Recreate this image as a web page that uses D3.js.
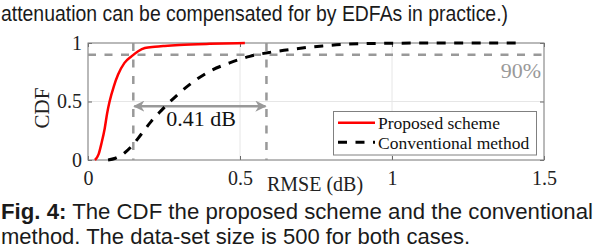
<!DOCTYPE html>
<html>
<head>
<meta charset="utf-8">
<script src="https://cdn.jsdelivr.net/npm/d3@7"></script>
<style>
  body { margin: 0; background: #fff; }
  svg { display: block; }
</style>
</head>
<body>
<script>
// data
var proposedX = [0.023, 0.035, 0.045, 0.055, 0.063, 0.071, 0.085, 0.099, 0.12, 0.143, 0.165, 0.187, 0.22, 0.252, 0.3, 0.4, 0.516];
var proposedY = [0, 0.05, 0.15, 0.27, 0.4, 0.5, 0.63, 0.73, 0.83, 0.886, 0.93, 0.957, 0.968, 0.975, 0.983, 0.993, 1.0];
var convX = [0.066, 0.09, 0.12, 0.148, 0.175, 0.208, 0.24, 0.269, 0.334, 0.4, 0.466, 0.532, 0.598, 0.652, 0.772, 0.838, 0.9, 1.0, 1.2, 1.43];
var convY = [0, 0.015, 0.06, 0.13, 0.22, 0.33, 0.42, 0.496, 0.644, 0.758, 0.83, 0.886, 0.92, 0.94, 0.975, 0.988, 0.994, 0.998, 1.0, 1.0];
var xTicks = [0, 0.5, 1, 1.5];
var yTicks = [0, 0.5, 1];
var level = 0.9;             // 90% line
var markX = [0.149, 0.587];  // where each curve hits 90%
var seriesNames = ["Proposed scheme", "Conventional method"];

var W = 596, H = 248;
var svg = d3.select("body").append("svg").attr("width", W).attr("height", H);

var x = d3.scaleLinear().domain([0, 1.5]).range([88, 544]);
var y = d3.scaleLinear().domain([0, 1]).range([160, 43]);
var serif = "'Liberation Serif', 'Times New Roman', serif";
var sans = "'Liberation Sans', Arial, sans-serif";

// text above
svg.append("text").attr("x", 1).attr("y", 21)
   .attr("font-family", sans).attr("font-size", 22).attr("fill", "#1a1a1a")
   .attr("textLength", 507).attr("lengthAdjust", "spacingAndGlyphs")
   .text("attenuation can be compensated for by EDFAs in practice.)");

// grid
var grid = svg.append("g").attr("stroke", "#e6e6e6").attr("stroke-width", 1);
grid.selectAll("line.gx").data(xTicks).enter().append("line")
    .attr("x1", d => x(d)).attr("x2", d => x(d)).attr("y1", y(0)).attr("y2", y(1));
grid.selectAll("line.gy").data(yTicks).enter().append("line")
    .attr("y1", d => y(d)).attr("y2", d => y(d)).attr("x1", x(0)).attr("x2", x(1.5));

var fmt = d3.format("~g");
var gx = svg.append("g").attr("transform", "translate(0," + y(0) + ")")
    .call(d3.axisBottom(x).tickValues(xTicks).tickFormat(fmt).tickSizeInner(-4).tickSizeOuter(0).tickPadding(11));
var gy = svg.append("g").attr("transform", "translate(" + x(0) + ",0)")
    .call(d3.axisLeft(y).tickValues(yTicks).tickFormat(fmt).tickSizeInner(-4).tickSizeOuter(0).tickPadding(6));
var gx2 = svg.append("g").attr("transform", "translate(0," + y(1) + ")")
    .call(d3.axisTop(x).tickValues(xTicks).tickFormat("").tickSizeInner(-4).tickSizeOuter(0));
var gy2 = svg.append("g").attr("transform", "translate(" + x(1.5) + ",0)")
    .call(d3.axisRight(y).tickValues(yTicks).tickFormat("").tickSizeInner(-4).tickSizeOuter(0));
[gx, gy, gx2, gy2].forEach(function(g) {
    g.select(".domain").remove();
    g.selectAll("line").attr("stroke", "#666");
    g.selectAll("text").attr("font-family", serif).attr("font-size", 20).attr("fill", "#222");
});
svg.append("rect").attr("x", x(0)).attr("y", y(1))
   .attr("width", x(1.5) - x(0)).attr("height", y(0) - y(1))
   .attr("fill", "none").attr("stroke", "#808080").attr("stroke-width", 1);

// axis labels
svg.append("text").attr("x", 315).attr("y", 191).attr("text-anchor", "middle")
   .attr("font-family", serif).attr("font-size", 20).attr("fill", "#222").text("RMSE (dB)");
svg.append("text").attr("transform", "translate(49,108) rotate(-90)").attr("text-anchor", "middle")
   .attr("font-family", serif).attr("font-size", 21).attr("fill", "#222").text("CDF");

// 90% reference lines
var ref = svg.append("g").attr("stroke", "#999").attr("stroke-width", 2.5).attr("stroke-dasharray", "8,8.5");
ref.append("line").attr("x1", x(0)).attr("x2", x(1.5)).attr("y1", y(level)).attr("y2", y(level));
ref.selectAll("line.v").data(markX).enter().append("line")
   .attr("x1", d => x(d)).attr("x2", d => x(d)).attr("y1", y(1)).attr("y2", y(0));

svg.append("text").attr("x", 541).attr("y", 78).attr("text-anchor", "end")
   .attr("font-family", serif).attr("font-size", 22).attr("fill", "#999").text("90%");

// double arrow between the two 90% points
var defs = svg.append("defs");
defs.append("marker").attr("id", "ah").attr("viewBox", "0 0 10 10").attr("refX", 9).attr("refY", 5)
    .attr("markerWidth", 4.5).attr("markerHeight", 4.5).attr("orient", "auto-start-reverse")
    .append("path").attr("d", "M0,0 L10,5 L0,10 L3,5 Z").attr("fill", "#999");
svg.append("line").attr("x1", x(markX[0]) + 1).attr("x2", x(markX[1]) - 1)
   .attr("y1", y(0.46)).attr("y2", y(0.46))
   .attr("stroke", "#999").attr("stroke-width", 2.5)
   .attr("marker-start", "url(#ah)").attr("marker-end", "url(#ah)");
svg.append("text").attr("x", 201).attr("y", 126).attr("text-anchor", "middle")
   .attr("font-family", serif).attr("font-size", 22).attr("fill", "#111").text("0.41 dB");

// curves
var line = d3.line().x(d => x(d[0])).y(d => y(d[1])).curve(d3.curveMonotoneX);
svg.append("path").attr("d", line(d3.zip(proposedX, proposedY)))
   .attr("fill", "none").attr("stroke", "#ff0000").attr("stroke-width", 2.5);
svg.append("path").attr("d", line(d3.zip(convX, convY)))
   .attr("fill", "none").attr("stroke", "#000").attr("stroke-width", 3).attr("stroke-dasharray", "9,8.5");

// legend
var lg = svg.append("g");
lg.append("rect").attr("x", 333.5).attr("y", 111.5).attr("width", 203).attr("height", 43.5)
  .attr("fill", "#fff").attr("stroke", "#808080").attr("stroke-width", 1);
lg.append("line").attr("x1", 338).attr("x2", 375).attr("y1", 122.7).attr("y2", 122.7)
  .attr("stroke", "#ff0000").attr("stroke-width", 2.5);
lg.append("line").attr("x1", 338).attr("x2", 375).attr("y1", 142.3).attr("y2", 142.3)
  .attr("stroke", "#000").attr("stroke-width", 3).attr("stroke-dasharray", "9,8.5");
lg.selectAll("text").data(seriesNames).enter().append("text")
  .attr("x", 378).attr("y", (d, i) => 129 + i * 20)
  .attr("font-family", serif).attr("font-size", 17.5).attr("fill", "#111").text(d => d);

// caption
var cap = svg.append("g").attr("font-family", sans).attr("font-size", 22).attr("fill", "#1a1a1a");
var c1 = cap.append("text").attr("x", 1).attr("y", 219).attr("textLength", 592).attr("lengthAdjust", "spacingAndGlyphs");
c1.append("tspan").attr("font-weight", "bold").text("Fig. 4:");
c1.append("tspan").text(" The CDF the proposed scheme and the conventional");
cap.append("text").attr("x", 1).attr("y", 244).attr("textLength", 469).attr("lengthAdjust", "spacingAndGlyphs")
   .text("method. The data-set size is 500 for both cases.");
</script>
</body>
</html>
